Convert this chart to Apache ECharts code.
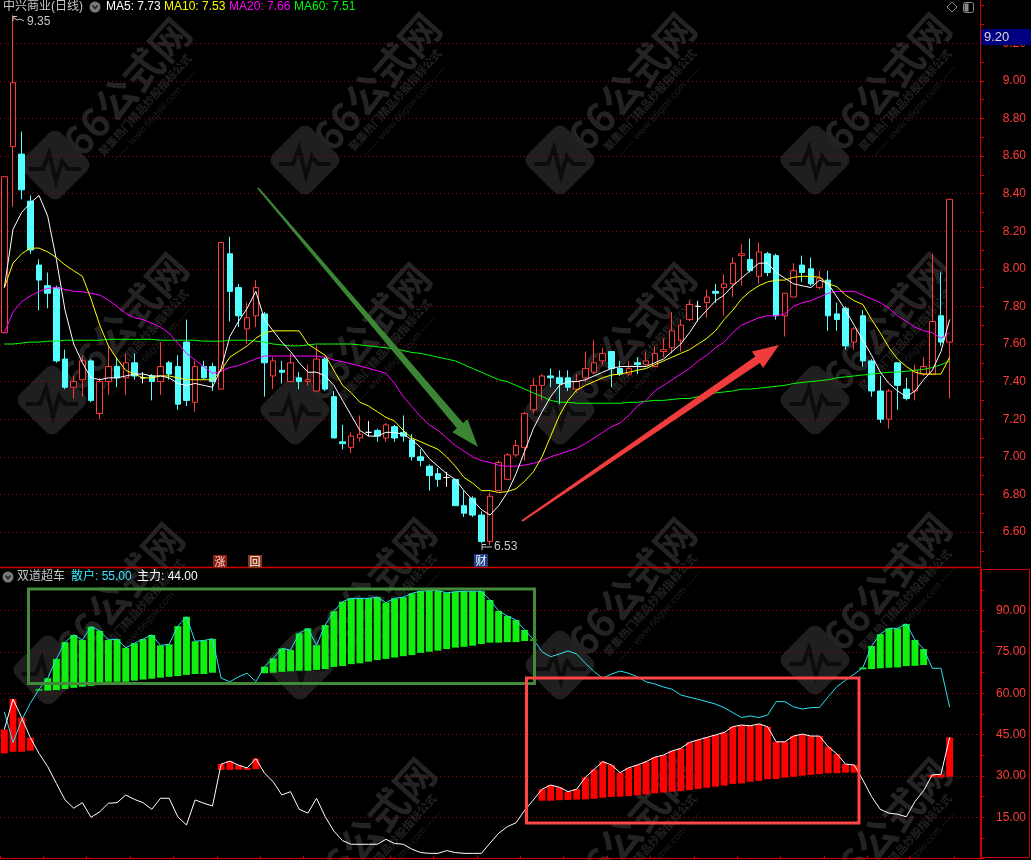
<!DOCTYPE html>
<html><head><meta charset="utf-8">
<script src="https://cdn.jsdelivr.net/npm/echarts@6/dist/echarts.min.js"></script>
<style>html,body{margin:0;padding:0;background:#000;}#c{width:1031px;height:860px;}</style>
</head><body><div id="c"></div>
<script>
const N = null;
// ---- price panel (中兴商业 日线) ----
const openP = [7.66,8.65,8.61,8.36,8.02,7.91,7.90,7.52,7.37,7.41,
 7.51,7.23,7.40,7.48,7.42,7.50,7.42,7.43,7.40,7.50,
 7.48,7.61,7.29,7.48,7.48,7.36,8.08,7.90,7.68,7.75,
 7.76,7.43,7.46,7.40,7.42,7.40,7.35,7.52,7.32,7.08,
 7.05,7.10,7.13,7.14,7.10,7.16,7.13,7.09,7.00,6.95,
 6.91,6.89,6.88,6.74,6.78,6.69,6.55,6.82,6.88,7.01,
 7.05,7.25,7.38,7.43,7.42,7.42,7.36,7.42,7.45,7.51,
 7.56,7.47,7.44,7.50,7.49,7.48,7.56,7.58,7.62,7.73,
 7.80,7.82,7.88,7.90,7.92,8.07,8.05,7.96,8.08,8.07,
 7.75,7.85,8.02,8.00,7.90,7.94,7.76,7.79,7.61,7.75,
 7.51,7.35,7.20,7.50,7.36,7.35,7.44,7.44,7.75,7.61];
const closeP = [8.49,8.99,8.42,8.10,7.94,7.87,7.51,7.37,7.40,7.51,
 7.30,7.40,7.48,7.42,7.50,7.43,7.42,7.40,7.48,7.44,
 7.28,7.30,7.48,7.42,7.40,8.14,7.88,7.75,7.74,7.90,
 7.50,7.51,7.45,7.50,7.40,7.41,7.52,7.36,7.10,7.07,
 7.11,7.12,7.13,7.11,7.17,7.10,7.11,7.00,6.98,6.90,
 6.88,6.89,6.74,6.70,6.69,6.55,6.79,6.97,7.01,7.06,
 7.23,7.38,7.43,7.42,7.39,7.37,7.40,7.47,7.50,7.55,
 7.47,7.44,7.47,7.49,7.51,7.55,7.57,7.67,7.70,7.81,
 7.80,7.85,7.87,7.92,8.03,8.08,7.99,8.09,7.98,7.75,
 7.87,7.99,7.98,7.92,7.95,7.75,7.73,7.59,7.68,7.51,
 7.35,7.20,7.35,7.38,7.31,7.46,7.48,7.72,7.61,8.37];
const highP = [8.49,9.35,8.73,8.39,8.05,7.98,7.91,7.57,7.43,7.54,
 7.52,7.42,7.59,7.53,7.55,7.55,7.45,7.44,7.61,7.51,
 7.54,7.73,7.51,7.51,7.50,8.14,8.17,7.92,7.82,7.94,
 7.77,7.53,7.51,7.55,7.45,7.49,7.59,7.53,7.35,7.17,
 7.13,7.22,7.19,7.15,7.18,7.17,7.22,7.12,7.04,6.96,
 6.94,6.92,6.88,6.82,6.79,6.71,6.81,6.98,7.02,7.09,
 7.24,7.42,7.44,7.47,7.46,7.46,7.44,7.56,7.62,7.58,
 7.56,7.51,7.51,7.53,7.56,7.59,7.63,7.77,7.73,7.83,
 7.83,7.89,7.92,7.97,8.06,8.13,8.16,8.14,8.09,8.08,
 7.87,8.03,8.07,8.06,7.99,7.99,7.82,7.80,7.69,7.78,
 7.52,7.43,7.36,7.50,7.42,7.49,7.53,8.08,7.98,8.37];
const lowP = [7.66,8.33,8.37,8.08,7.78,7.79,7.50,7.36,7.31,7.32,
 7.29,7.20,7.33,7.37,7.33,7.41,7.39,7.30,7.33,7.41,
 7.25,7.27,7.24,7.41,7.35,7.36,7.72,7.69,7.60,7.69,
 7.32,7.36,7.39,7.40,7.36,7.38,7.35,7.35,7.10,7.04,
 7.02,7.08,7.11,7.08,7.08,7.08,7.08,6.98,6.95,6.82,
 6.84,6.84,6.74,6.68,6.68,6.54,6.53,6.82,6.88,7.00,
 6.98,7.23,7.30,7.37,7.28,7.35,7.34,7.40,7.44,7.49,
 7.37,7.43,7.43,7.44,7.48,7.48,7.53,7.55,7.56,7.72,
 7.72,7.74,7.82,7.75,7.85,7.91,7.98,7.92,7.96,7.73,
 7.64,7.85,7.93,7.91,7.89,7.67,7.67,7.57,7.57,7.48,
 7.32,7.18,7.15,7.25,7.30,7.30,7.43,7.44,7.59,7.31];
const ma5 = [7.90,8.21,8.30,8.35,8.39,8.28,8.05,7.78,7.60,7.50,
 7.42,7.41,7.42,7.42,7.43,7.44,7.44,7.43,7.43,7.42,
 7.39,7.38,7.39,7.38,7.37,7.47,7.64,7.72,7.79,7.88,
 7.73,7.67,7.61,7.56,7.50,7.45,7.45,7.43,7.38,7.30,
 7.22,7.14,7.11,7.11,7.13,7.13,7.12,7.09,7.05,6.99,
 6.95,6.91,6.88,6.82,6.77,6.72,6.69,6.74,6.81,6.91,
 7.03,7.15,7.24,7.32,7.38,7.40,7.40,7.41,7.43,7.45,
 7.47,7.48,7.48,7.48,7.48,7.50,7.52,7.56,7.60,7.66,
 7.73,7.78,7.83,7.86,7.91,7.95,7.99,8.03,8.03,7.98,
 7.95,7.92,7.91,7.90,7.94,7.92,7.85,7.78,7.70,7.62,
 7.54,7.45,7.39,7.35,7.32,7.35,7.41,7.46,7.56,7.73];
const ma10 = [7.90,8.03,8.08,8.11,8.11,8.09,8.06,8.02,7.99,7.96,
 7.84,7.70,7.59,7.52,7.46,7.44,7.42,7.42,7.43,7.43,
 7.42,7.41,7.41,7.41,7.41,7.46,7.53,7.56,7.59,7.63,
 7.66,7.67,7.67,7.67,7.67,7.60,7.57,7.54,7.46,7.38,
 7.34,7.29,7.27,7.24,7.21,7.19,7.14,7.10,7.08,7.06,
 7.04,7.00,6.95,6.89,6.86,6.82,6.82,6.81,6.815,6.83,
 6.87,6.92,7.00,7.11,7.22,7.30,7.355,7.38,7.40,7.42,
 7.435,7.44,7.45,7.46,7.47,7.49,7.51,7.53,7.55,7.57,
 7.60,7.63,7.67,7.73,7.78,7.84,7.88,7.91,7.93,7.94,
 7.94,7.955,7.96,7.96,7.955,7.92,7.905,7.86,7.83,7.81,
 7.73,7.66,7.58,7.52,7.48,7.45,7.44,7.44,7.44,7.53];
const ma20 = [7.66,7.77,7.825,7.855,7.88,7.896,7.90,7.89,7.88,7.878,
 7.87,7.86,7.834,7.80,7.763,7.74,7.73,7.71,7.69,7.657,
 7.604,7.55,7.515,7.479,7.444,7.455,7.475,7.485,7.503,7.52,
 7.536,7.536,7.536,7.536,7.536,7.536,7.535,7.53,7.515,7.506,
 7.494,7.483,7.47,7.458,7.444,7.39,7.32,7.267,7.213,7.17,
 7.14,7.10,7.06,7.03,7.00,6.98,6.97,6.955,6.95,6.95,
 6.956,6.965,6.98,7.00,7.015,7.03,7.045,7.07,7.10,7.13,
 7.16,7.18,7.22,7.27,7.30,7.35,7.38,7.41,7.44,7.47,
 7.51,7.54,7.58,7.61,7.66,7.70,7.72,7.74,7.75,7.75,
 7.76,7.80,7.82,7.83,7.85,7.87,7.88,7.88,7.88,7.86,
 7.84,7.82,7.79,7.75,7.72,7.69,7.67,7.66,7.63,7.66];
const ma60 = [7.60,7.60,7.605,7.61,7.61,7.615,7.615,7.62,7.62,7.62,
 7.62,7.62,7.625,7.625,7.625,7.625,7.625,7.625,7.62,7.62,
 7.62,7.62,7.62,7.615,7.615,7.615,7.62,7.62,7.62,7.615,
 7.61,7.60,7.595,7.59,7.59,7.595,7.60,7.60,7.60,7.60,
 7.60,7.595,7.59,7.585,7.58,7.575,7.565,7.555,7.55,7.54,
 7.53,7.52,7.51,7.49,7.47,7.45,7.43,7.41,7.40,7.38,
 7.36,7.34,7.32,7.30,7.29,7.29,7.285,7.285,7.285,7.285,
 7.285,7.285,7.29,7.29,7.295,7.30,7.30,7.305,7.31,7.31,
 7.32,7.33,7.34,7.345,7.35,7.36,7.36,7.365,7.37,7.375,
 7.38,7.39,7.395,7.40,7.405,7.41,7.42,7.425,7.43,7.435,
 7.44,7.445,7.45,7.45,7.455,7.46,7.465,7.475,7.49,7.51];
const priceTicks = {min: 6.4, max: 9.4, step: 0.2};

// ---- indicator panel (双道超车) ----
const retail = [53.3,42.1,50.3,56.4,61.5,65.5,72.5,78.6,81.2,79.4,
 84.2,82.7,79.4,79.7,76.5,78.2,79.7,81.2,77.4,77.8,
 84.4,87.8,78.9,79.2,79.8,65.5,64.2,66.0,67.3,64.2,
 69.7,72.7,76.3,75.7,81.8,83.6,77.5,84.8,89.8,93.3,
 94.5,94.5,94.5,94.9,92.9,94.5,94.9,96.3,97.1,97.3,
 97.3,96.5,96.9,97.1,97.1,97.1,93.9,89.9,88.1,86.6,
 83.0,79.6,75.1,73.3,74.3,75.4,74.3,70.9,67.9,65.5,
 67.0,68.1,67.3,66.0,64.2,63.4,62.3,61.5,59.4,58.6,
 57.8,57.0,56.1,54.8,53.0,51.2,51.8,51.2,52.1,57.0,
 57.0,55.1,54.3,54.8,54.9,58.8,62.4,64.8,67.0,69.4,
 77.2,81.5,83.6,83.6,85.2,79.4,76.1,69.1,69.1,55.0];
const mainForce = [46.9,57.9,51.2,43.9,38.2,33.4,27.3,21.3,18.3,20.3,
 15.0,17.0,20.1,20.3,23.1,21.5,20.3,17.9,21.9,21.9,
 15.2,12.2,21.3,20.1,19.1,34.3,35.4,33.9,32.9,36.3,
 31.0,27.9,23.1,24.3,17.9,16.5,21.9,15.2,10.0,6.5,
 5.2,5.2,5.2,5.2,7.0,5.5,5.2,3.4,2.2,1.9,
 1.9,2.9,2.2,1.9,1.9,1.9,5.6,9.2,11.6,13.0,
 17.6,21.3,25.2,26.7,25.9,24.3,25.2,29.5,32.4,35.2,
 34.0,31.2,33.0,34.0,35.2,36.8,37.6,39.1,40.0,42.2,
 43.1,44.0,44.9,45.8,47.9,48.5,48.2,48.9,47.9,42.4,
 42.4,44.5,45.2,44.5,44.5,40.6,38.0,34.3,34.0,28.5,
 22.5,17.9,16.5,16.1,15.2,20.7,24.7,30.4,30.6,44.0];
// lower ends of the green (散户) sticks; null = no stick
const greenBase = [N,N,N,N,61.0,61.0,61.2,61.6,62.0,62.4,
 62.7,63.0,64.2,64.2,64.2,64.6,65.0,65.3,65.7,66.0,
 66.3,66.7,67.0,67.0,67.5,N,N,N,N,N,
 67.3,67.5,67.8,68.0,68.2,68.2,68.5,68.8,69.6,69.9,
 70.6,70.9,71.5,72.1,72.5,73.0,73.5,73.9,74.7,75.1,
 75.5,76.1,76.6,76.9,77.3,77.9,78.4,78.4,78.6,78.6,
 79.0,79.1,N,N,N,N,N,N,N,N,
 N,N,N,N,N,N,N,N,N,N,
 N,N,N,N,N,N,N,N,N,N,
 N,N,N,N,N,N,N,N,N,68.7,
 68.8,69.1,69.3,69.4,69.9,70.0,70.3,N,N,N];
// lower ends of the red (主力) sticks
const redBase = [38.2,38.8,38.8,39.2,N,N,N,N,N,N,
 N,N,N,N,N,N,N,N,N,N,
 N,N,N,N,N,32.2,32.2,32.3,32.2,32.5,
 N,N,N,N,N,N,N,N,N,N,
 N,N,N,N,N,N,N,N,N,N,
 N,N,N,N,N,N,N,N,N,N,
 N,N,21.0,21.0,21.2,21.3,21.4,21.5,21.7,22.1,
 22.4,22.5,22.7,23.0,23.3,23.7,24.0,24.3,24.5,24.9,
 25.3,25.7,26.1,26.5,27.1,27.3,27.9,28.2,28.8,28.9,
 29.4,29.7,30.1,30.4,30.7,31.0,31.0,31.2,31.2,N,
 N,N,N,N,N,N,N,29.5,29.5,29.7];
const indTicks = {min: 0, max: 105, step: 15};

const SLOTS = 113; // 110 trading days + 3 empty slots on the right
const days = Array.from({length: SLOTS}, (_, i) => 'D' + (i + 1));

const RED = '#ff3c3c', CYAN = '#54ffff', AX = '#d00000';
const candleData = openP.map((o, i) => {
  const item = {value: [o, closeP[i], lowP[i], highP[i]]};
  if (o === closeP[i]) item.itemStyle = {color: '#fff', color0: '#fff', borderColor: '#fff', borderColor0: '#fff'};
  return item;
});
const greenData = retail.map((v, i) => greenBase[i] == null ? null : [i, v, greenBase[i]]).filter(Boolean);
const redData = mainForce.map((v, i) => redBase[i] == null ? null : [i, v, redBase[i]]).filter(Boolean);

function stick(color) {
  return function (params, api) {
    const i = api.value(0), top = api.value(1), base = api.value(2);
    const p1 = api.coord([i, top]), p0 = api.coord([i, base]);
    const w = api.size([1, 0])[0] * 0.8;
    return {type: 'rect', shape: {x: p1[0] - w / 2, y: Math.min(p1[1], p0[1]), width: w, height: Math.max(1, Math.abs(p0[1] - p1[1]))}, style: {fill: color}};
  };
}
function yAx(grid, t) {
  return {
    type: 'value', gridIndex: grid, position: 'right', min: t.min, max: t.max, interval: t.step,
    axisLine: {show: true, lineStyle: {color: AX}},
    axisTick: {show: true, length: 4, lineStyle: {color: AX}},
    minorTick: {show: true, splitNumber: 2, length: 4, lineStyle: {color: AX}},
    axisLabel: {color: RED, fontSize: 12, fontFamily: 'Liberation Sans', align: 'right', margin: 46,
      showMinLabel: false, showMaxLabel: false, formatter: v => v.toFixed(2)},
    splitLine: {show: true, showMinLine: false, showMaxLine: false, lineStyle: {color: '#a00000', type: [1, 3], width: 1}}
  };
}
const maLine = (name, data, color) => ({name, type: 'line', xAxisIndex: 0, yAxisIndex: 0, data, showSymbol: false, symbol: 'none', lineStyle: {width: 1, color}, itemStyle: {color}});

const T = (x, y, text, fill, size, z) => ({type: 'text', x, y, z: z || 50,
  style: {text, fill, font: (size || 12) + 'px "Liberation Sans","Noto Sans CJK SC",sans-serif', verticalAlign: 'middle'}});
const TC = (x, y, text, fill) => ({type: 'text', x, y, z: 52,
  style: {text, fill, font: '11px "Noto Sans CJK SC"', align: 'center', verticalAlign: 'middle'}});

// faint site watermark (drawn beneath the chart marks)
const wmSpots = [[55,165],[305,160],[560,160],[815,160],[52,400],[295,410],[560,410],[815,400],[48,670],[300,665],[560,665],[815,660],[300,905],[560,905],[815,905]];
const watermark = [];
wmSpots.forEach(([cx, cy]) => {
  watermark.push({type: 'rect', x: cx, y: cy, rotation: Math.PI / 4, z: 0, shape: {x: -27, y: -27, width: 54, height: 54, r: 9}, style: {fill: '#1f1f1f'}});
  watermark.push({type: 'polyline', z: 0, shape: {points: [[cx-26,cy+4],[cx-12,cy+4],[cx-6,cy-12],[cx+1,cy+16],[cx+7,cy-4],[cx+13,cy+4],[cx+26,cy+4]]}, style: {stroke: '#0c0c0c', lineWidth: 4, fill: 'none'}});
  watermark.push({type: 'text', x: cx + 72, y: cy - 78, rotation: 48 * Math.PI / 180, z: 0, style: {text: '66公式网', fill: '#232323', font: 'bold 40px "Noto Sans CJK SC"', align: 'center', verticalAlign: 'middle'}});
  watermark.push({type: 'text', x: cx + 90, y: cy - 60, rotation: 48 * Math.PI / 180, z: 0, style: {text: '聚集热门精品炒股指标公式', fill: '#222', font: 'bold 11px "Noto Sans CJK SC"', align: 'center', verticalAlign: 'middle'}});
  watermark.push({type: 'text', x: cx + 100, y: cy - 49, rotation: 48 * Math.PI / 180, z: 0, style: {text: '—— www.66gsw.com ——', fill: '#1e1e1e', font: '10px "Liberation Sans"', align: 'center', verticalAlign: 'middle'}});
});

const graphic = watermark.concat([
  {type: 'line', z: 40, shape: {x1: 0, y1: 567.5, x2: 980, y2: 567.5}, style: {stroke: AX, lineWidth: 1.5}},
  {type: 'line', z: 40, shape: {x1: 980.5, y1: 0, x2: 980.5, y2: 860}, style: {stroke: AX, lineWidth: 1}},
  {type: 'rect', z: 40, shape: {x: 981.5, y: 569.5, width: 48, height: 288}, style: {fill: 'none', stroke: AX, lineWidth: 1}},
  {type: 'rect', z: 60, shape: {x: 981, y: 29, width: 50, height: 16}, style: {fill: '#000080'}},
  T(984, 37.5, '9.20', '#d8d8d8', 13, 62),
  // annotation frames and arrows
  {type: 'rect', z: 45, shape: {x: 28.5, y: 589, width: 506, height: 94.5}, style: {fill: 'none', stroke: '#428a3a', lineWidth: 3}},
  {type: 'rect', z: 45, shape: {x: 526.5, y: 678, width: 332.5, height: 145}, style: {fill: 'none', stroke: '#ff4545', lineWidth: 3}},
  {type: 'polygon', z: 45, shape: {points: [[257.2,188.6],[456.9,428.3],[452.3,432.2],[478,447],[467.5,419.2],[463,423.1],[258.8,187.4]]}, style: {fill: '#3b8534'}},
  {type: 'polygon', z: 45, shape: {points: [[522.6,521.8],[759.8,363],[763.2,367.9],[779,345],[751.9,351.4],[755.3,356.4],[521.4,520.2]]}, style: {fill: '#f03c3c'}},
  // top title
  T(3, 7, '中兴商业(日线)', '#c8c8c8', 12),
  {type: 'circle', z: 50, shape: {cx: 95, cy: 7, r: 5.5}, style: {fill: '#7a7a7a'}},
  {type: 'polyline', z: 51, shape: {points: [[92.5,5.5],[95,8.5],[97.5,5.5]]}, style: {stroke: '#222', lineWidth: 1.5, fill: 'none'}},
  T(106, 7, 'MA5: 7.73', '#ffffff', 12),
  T(164, 7, 'MA10: 7.53', '#ffff00', 12),
  T(229, 7, 'MA20: 7.66', '#ff00ff', 12),
  T(294, 7, 'MA60: 7.51', '#00ff00', 12),
  {type: 'polygon', z: 50, shape: {points: [[952,2],[957,7],[952,12],[947,7]]}, style: {fill: 'none', stroke: '#8a8a8a', lineWidth: 1}},
  {type: 'rect', z: 50, shape: {x: 963.5, y: 2.5, width: 10, height: 10, r: 2}, style: {fill: 'none', stroke: '#8a8a8a', lineWidth: 1}},
  {type: 'rect', z: 50, shape: {x: 964.5, y: 3.5, width: 4, height: 8}, style: {fill: '#8a8a8a'}},
  // extreme labels
  {type: 'polyline', z: 50, shape: {points: [[24,21],[20,19],[17,20],[13.5,17.5]]}, style: {stroke: '#c8c8c8', lineWidth: 1, fill: 'none'}},
  {type: 'polyline', z: 50, shape: {points: [[13,21],[13,16.5],[17,16.5]]}, style: {stroke: '#c8c8c8', lineWidth: 1, fill: 'none'}},
  T(27, 22, '9.35', '#c8c8c8', 12),
  {type: 'polyline', z: 50, shape: {points: [[492,547],[482,547]]}, style: {stroke: '#c8c8c8', lineWidth: 1, fill: 'none'}},
  {type: 'polyline', z: 50, shape: {points: [[482,550],[482,544.5],[486,544.5]]}, style: {stroke: '#c8c8c8', lineWidth: 1, fill: 'none'}},
  T(494, 547, '6.53', '#c8c8c8', 12),
  // event markers
  {type: 'rect', z: 50, shape: {x: 213, y: 555, width: 14, height: 13}, style: {fill: '#8a1c12'}},
  TC(220, 561.5, '涨', '#ffd8c8'),
  {type: 'rect', z: 50, shape: {x: 248, y: 555, width: 14, height: 13}, style: {fill: '#8a3414'}},
  TC(255, 561.5, '回', '#ffffff'),
  {type: 'rect', z: 50, shape: {x: 474, y: 554, width: 14, height: 13}, style: {fill: '#1d3f86'}},
  TC(481, 560.5, '财', '#ffffff'),
  // indicator title
  {type: 'circle', z: 50, shape: {cx: 8, cy: 577, r: 5.5}, style: {fill: '#7a7a7a'}},
  {type: 'polyline', z: 51, shape: {points: [[5.5,575.5],[8,578.5],[10.5,575.5]]}, style: {stroke: '#222', lineWidth: 1.5, fill: 'none'}},
  T(17, 577, '双道超车', '#c8c8c8', 12),
  T(71, 577, '散户: 55.00', '#3ce8ff', 12),
  T(137, 577, '主力: 44.00', '#ffffff', 12)
]);

const option = {
  backgroundColor: '#000',
  animation: false,
  grid: [
    {left: 0, right: 51, top: 5.6, height: 564, outerBoundsMode: 'none', containLabel: false},
    {left: 0, right: 51, top: 569.4, height: 289.2, outerBoundsMode: 'none', containLabel: false}
  ],
  xAxis: [
    {type: 'category', gridIndex: 0, data: days, boundaryGap: true, axisLine: {show: false}, axisTick: {show: false}, axisLabel: {show: false}, splitLine: {show: false}},
    {type: 'category', gridIndex: 1, data: days, boundaryGap: true, axisLine: {show: true, lineStyle: {color: AX}}, axisTick: {show: true, inside: true, interval: 4, length: 3, lineStyle: {color: AX}}, axisLabel: {show: false}, splitLine: {show: false}}
  ],
  yAxis: [yAx(0, priceTicks), yAx(1, indTicks)],
  series: [
    {name: 'K', type: 'candlestick', xAxisIndex: 0, yAxisIndex: 0, data: candleData, barWidth: 6,
      itemStyle: {color: '#000', color0: CYAN, borderColor: RED, borderColor0: CYAN, borderWidth: 1}},
    maLine('MA60', ma60, '#00ff00'),
    maLine('MA20', ma20, '#ff00ff'),
    maLine('MA10', ma10, '#ffff00'),
    maLine('MA5', ma5, '#ffffff'),
    {name: 'greenStick', type: 'custom', xAxisIndex: 1, yAxisIndex: 1, renderItem: stick('#10f010'), data: greenData, encode: {x: 0, y: [1, 2]}},
    {name: 'redStick', type: 'custom', xAxisIndex: 1, yAxisIndex: 1, renderItem: stick('#ff0000'), data: redData, encode: {x: 0, y: [1, 2]}},
    {name: '散户', type: 'line', xAxisIndex: 1, yAxisIndex: 1, data: retail, showSymbol: false, symbol: 'none', lineStyle: {width: 1, color: '#28e0f4'}},
    {name: '主力', type: 'line', xAxisIndex: 1, yAxisIndex: 1, data: mainForce, showSymbol: false, symbol: 'none', lineStyle: {width: 1, color: '#ffffff'}}
  ],
  graphic
};
const chart = echarts.init(document.getElementById('c'), null, {renderer: 'canvas'});
chart.setOption(option);
</script>
</body></html>
